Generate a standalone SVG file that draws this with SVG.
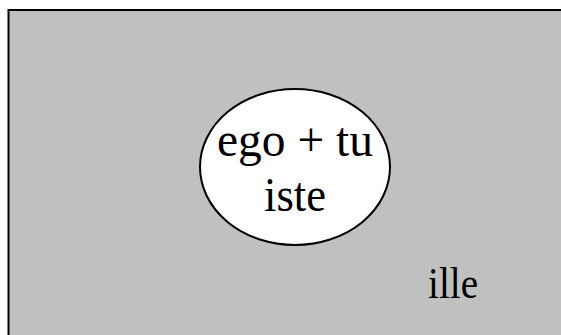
<svg xmlns="http://www.w3.org/2000/svg" width="561" height="335" viewBox="0 0 561 335">
<style>
.t{font-family:"Liberation Serif","Times New Roman",serif;fill:#000}
</style>
<rect width="561" height="335" fill="#ffffff"/>
<g id="world">
<rect x="8.5" y="10" width="560" height="340" fill="#c0c0c0" stroke="#000" stroke-width="2"/>
<text class="t" x="428" y="298" font-size="44" textLength="50" lengthAdjust="spacingAndGlyphs">ille</text>
</g>
<g id="inner">
<ellipse cx="295" cy="167" rx="95" ry="78" fill="#fff" stroke="#000" stroke-width="2"/>
<text class="t" x="295" y="156" font-size="48" text-anchor="middle" textLength="156" lengthAdjust="spacingAndGlyphs">ego + tu</text>
<text class="t" x="295" y="211" font-size="48" text-anchor="middle" textLength="62" lengthAdjust="spacingAndGlyphs">iste</text>
</g>
</svg>
